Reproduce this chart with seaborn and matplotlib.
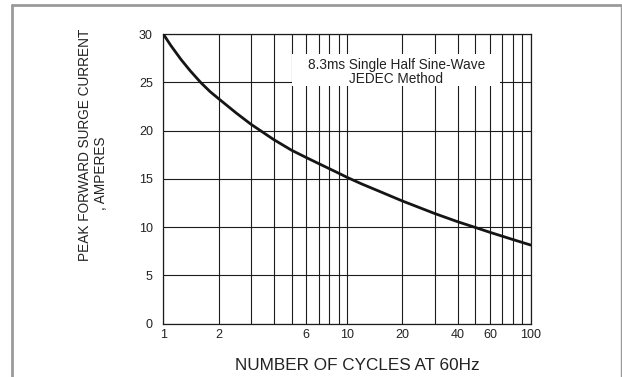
import numpy as np
import pandas as pd
import matplotlib
matplotlib.use("Agg")
import matplotlib.pyplot as plt
import matplotlib.ticker as mticker
from matplotlib.lines import Line2D
from matplotlib.patches import Rectangle
import seaborn as sns

# valores
cycles = [1, 1.1, 1.25, 1.4, 1.6, 1.8, 2, 2.5, 3, 4, 5, 6, 7, 8, 9, 10, 12, 15, 20,
          30, 40, 50, 60, 70, 80, 90, 100]
current = [30.0, 28.8, 27.35, 26.2, 24.97, 24.02, 23.3, 21.8, 20.65, 19.05, 17.95, 17.2,
           16.58, 16.05, 15.58, 15.15, 14.47, 13.7, 12.7, 11.4, 10.55, 9.95, 9.45, 9.05,
           8.7, 8.4, 8.13]
x_ticks = [1, 2, 6, 10, 20, 40, 60, 100]
y_ticks = [0, 5, 10, 15, 20, 25, 30]

df = pd.DataFrame({"cycles": cycles, "current": current})

sns.set_style("white")
plt.rcParams["font.family"] = ["Liberation Sans", "DejaVu Sans"]

fig = plt.figure(figsize=(6.22, 3.77), dpi=100)
ax = fig.add_axes([0.2625, 0.1419, 0.5907, 0.7679])

ax.set_xscale("log")
ax.set_xlim(1, 100)
ax.set_ylim(0, 30)

# rejilla
ax.xaxis.set_major_locator(mticker.FixedLocator(x_ticks))
ax.xaxis.set_major_formatter(mticker.FixedFormatter([str(t) for t in x_ticks]))
ax.xaxis.set_minor_locator(mticker.LogLocator(base=10, subs=np.arange(2, 10)))
ax.xaxis.set_minor_formatter(mticker.NullFormatter())
ax.set_yticks(y_ticks)
ax.grid(True, which="both", axis="x", color="#1c1c1c", lw=0.8)
ax.grid(True, which="major", axis="y", color="#1c1c1c", lw=0.8)
ax.set_axisbelow(True)
ax.tick_params(axis="both", which="both", length=0, labelsize=9, colors="#222222")
ax.tick_params(axis="y", pad=7.5)
ax.tick_params(axis="x", pad=4.2)
for s in ax.spines.values():
    s.set_color("#1c1c1c")
    s.set_linewidth(0.9)

sns.lineplot(data=df, x="cycles", y="current", ax=ax, color="#151515", lw=2.0, zorder=5)
ax.set_xlabel("")
ax.set_ylabel("")

# recuadro de la leyenda
ax.add_patch(Rectangle((0.350, 0.820), 0.566, 0.111, transform=ax.transAxes,
                       facecolor="white", edgecolor="none", zorder=3))
ax.text(0.634, 0.870, "8.3ms Single Half Sine-Wave\nJEDEC Method", transform=ax.transAxes,
        ha="center", va="center", fontsize=9.8, color="#222222", linespacing=1.0, zorder=4)

# etiquetas de ejes
fig.text(357.5 / 622, 1 - 365 / 377, "NUMBER OF CYCLES AT 60Hz", ha="center", va="center",
         fontsize=12.3, color="#222222")
fig.text(84.6 / 622, 1 - 145 / 377, "PEAK FORWARD SURGE CURRENT", ha="center", va="center",
         rotation=90, fontsize=9.8, color="#222222")
fig.text(101 / 622, 1 - 173 / 377, ", AMPERES", ha="center", va="center",
         rotation=90, fontsize=9.8, color="#222222")

# marco gris
frame = dict(color="#9a9a9a", transform=fig.transFigure)
fig.lines.append(Line2D([12 / 622, 12 / 622], [0, 1 - 5 / 377], lw=2.0, **frame))
fig.lines.append(Line2D([12 / 622, 620.5 / 622], [1 - 5 / 377, 1 - 5 / 377], lw=2.0, **frame))
fig.lines.append(Line2D([620.5 / 622, 620.5 / 622], [0, 1 - 5 / 377], lw=1.0, **frame))

fig.savefig("out.png", dpi=100)
